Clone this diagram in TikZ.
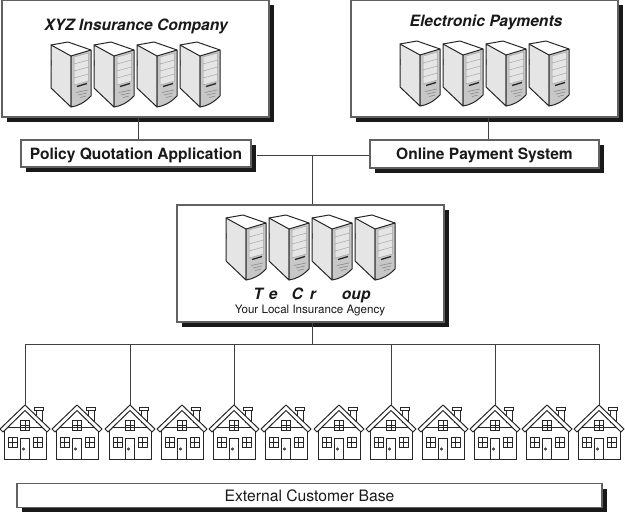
\documentclass[tikz,border=0pt]{standalone}
\usepackage{fontspec}
\setmainfont{TeX Gyre Heros}
\usetikzlibrary{shadows}
\definecolor{edge}{gray}{0.38}
\definecolor{sideface}{gray}{0.90}
\definecolor{frontface}{gray}{0.78}
\definecolor{panelface}{gray}{0.90}
\tikzset{
  panelbox/.style={draw=edge,line width=1.2pt,fill=white,inner sep=0pt,
    drop shadow={shadow xshift=5pt,shadow yshift=-5pt,fill=black!90,opacity=1}},
  wire/.style={draw=black!75,line width=0.9pt},
  titletext/.style={font=\bfseries\itshape\fontsize{15.6}{18}\selectfont,text=black!90,inner sep=0pt},
  apptext/.style={font=\bfseries\fontsize{15.55}{18}\selectfont,text=black!90,text height=11pt,text depth=0pt},
  plaintext/.style={font=\fontsize{15.7}{17}\selectfont,text=black!90,inner sep=0pt},
  servertower/.pic={
    \fill[white] (0,0)--(17,-3)--(40,5)--(20,11)--cycle;
    \draw[fill=sideface,draw=black!85,line width=1pt,line join=round]
      (0,0)--(20,11)--(20,62)--(0,43)--cycle;
    \draw[fill=frontface,draw=black!85,line width=1pt,line join=round]
      (20,11)--(40,5)--(40,51) .. controls (33,58) and (27,61) .. (20,62)--cycle;
    \draw[black!85,line width=1pt,line join=round] (0,0)--(17,-3)--(40,5);
    \fill[panelface] (23,12)--(37.5,8)--(37.5,36)--(23,40)--cycle;
    \draw[black!35,line width=.5pt] (23,12)--(37.5,8)--(37.5,36)--(23,40)--cycle
      (23,19)--(37.5,15) (23,26)--(37.5,22) (23,33)--(37.5,29);
    \draw[black!85,line width=1.3pt] (26,41.5)--(36,38.5);
    \draw[black!45,line width=.6pt] (25,47.5)--(37,45) (27,50)--(36,48) (29,52.5)--(35,51);
    \fill[black!70] (-0.5,15) rectangle (0.8,21);
  },
  cottage/.pic={
    \draw[fill=white,draw=black!85,line width=1pt] (11,18)--(11,5)--(17,5)--(17,24);
    \draw[fill=white,draw=black!85,line width=1pt] (9,2) rectangle (18,5);
    \draw[fill=white,draw=black!85,line width=1pt] (-21,22) rectangle (21,54);
    \draw[fill=white,draw=black!85,line width=1pt,line join=round]
      (0,0)--(25,24)--(22,27)--(0,5.5)--(-22,27)--(-25,24)--cycle;
    \draw[black!85,line width=1pt]
      (-4.5,15) rectangle (4.5,25) (0,15)--(0,25) (-4.5,20)--(4.5,20)
      (-17,32) rectangle (-8,42) (-12.5,32)--(-12.5,42) (-17,37)--(-8,37)
      (8,32) rectangle (17,42) (12.5,32)--(12.5,42) (8,37)--(17,37)
      (-4.5,54)--(-4.5,33)--(4.5,33)--(4.5,54);
    \draw[black!85,line width=.8pt] (-1.5,44) circle (1.1);
  }
}
\begin{document}
\begin{tikzpicture}[x=1pt,y=-1pt]
\useasboundingbox (0,0) rectangle (625,512);
\fill[white] (0,0) rectangle (625,512);

% upper boxes
\node[panelbox,minimum width=267pt,minimum height=117pt] (xyz) at (135.5,58.5) {};
\node[panelbox,minimum width=267pt,minimum height=117pt] (epay) at (484.5,58.5) {};
\node[titletext] (xyzt) at (136,26.5) {XYZ Insurance Company};
\node[titletext] (epayt) at (486,22.5) {Electronic Payments};
\foreach \x in {51,94,137,180} \pic at (\x,45) {servertower};
\foreach \x in {400,443,486,529} \pic at (\x,44) {servertower};

% application boxes
\node[panelbox,apptext,minimum width=230pt,minimum height=27pt] (policy) at (136,153.5) {Policy Quotation Application};
\node[panelbox,apptext,minimum width=229pt,minimum height=28pt] (online) at (484.5,154) {Online Payment System};

% agency box
\node[panelbox,minimum width=267pt,minimum height=117pt] (agency) at (310.5,263.5) {};
\foreach \x in {226,269,312,355} \pic at (\x,218) {servertower};
\node[titletext] (groupt) at (312,295) {T\hspace{6pt}e\hspace{14pt}C\hspace{7pt}r\hspace{26pt}oup};
\node[plaintext,font=\fontsize{11.6}{13}\selectfont] (agencyt) at (310,311) {Your Local Insurance Agency};

% customer bar
\node[panelbox,plaintext,minimum width=585pt,minimum height=24pt] (base) at (309.5,495.5) {External Customer Base};

% houses
\foreach \i/\x in {1/25,2/77,3/130,4/182,5/234,6/286,7/339,8/391,9/443,10/495,11/547,12/599}{
  \pic at (\x,405) {cottage};
  \coordinate (h\i) at (\x,405);
}

% connectors
\coordinate (hub) at (312,155);
\coordinate (busc) at (312,344);
\coordinate (tapa) at (138,130);
\coordinate (tapb) at (488,130);
\draw[wire] (xyz.south -| tapa) -- (policy.north -| tapa);
\draw[wire] (epay.south -| tapb) -- (online.north -| tapb);
\draw[wire] (policy.east) ++(5,1.5) -- (online.west |- hub);
\draw[wire] (hub) -- (agency.north -| hub);
\draw[wire] (agency.south -| busc) -- (busc);
\draw[wire] (h1 |- busc) -- (h12 |- busc);
\foreach \i in {1,3,5,8,10,12} \draw[wire] (h\i |- busc) -- (h\i);
\end{tikzpicture}
\end{document}
